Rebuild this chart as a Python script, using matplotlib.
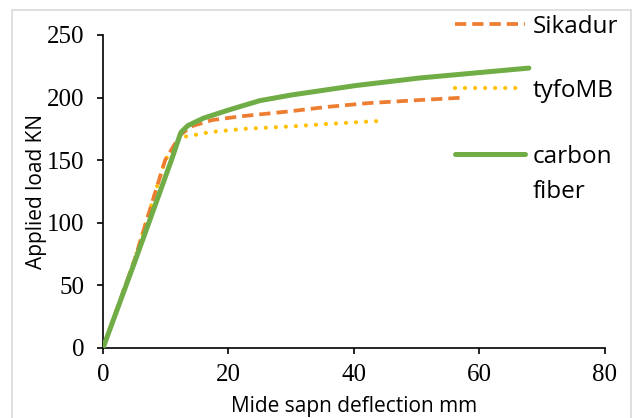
import matplotlib.pyplot as plt
from matplotlib.patches import Rectangle
from matplotlib.legend import Legend

# deflection (mm) vs applied load (kN)
sikadur_x = [0, 5, 9.9, 12.3, 14.1, 17.4, 22, 29.8, 35.7, 42.2, 50.5, 57.8]
sikadur_y = [0, 70, 150, 170, 177, 182, 185, 189, 192.5, 195.5, 198, 200]

tyfo_x = [0, 5, 9.9, 12.3, 17.2, 22.6, 30.3, 36, 44.9]
tyfo_y = [0, 70, 150, 168, 172.5, 175, 177, 179, 181.5]

carbon_x = [0, 5, 10.9, 12.4, 13.5, 16, 20, 25, 30, 40.2, 50.5, 67.9]
carbon_y = [0, 68, 150, 172, 177.5, 183.5, 190, 197.5, 202, 209.5, 215.6, 223.5]

labels = ['Sikadur', 'tyfoMB', 'carbon']
extra_label = 'fiber'
xticks = [0, 20, 40, 60, 80]
yticks = [0, 50, 100, 150, 200, 250]

fig = plt.figure(figsize=(6.4, 4.18), dpi=100)
ax = fig.add_axes([0.161, 0.1675, 0.784, 0.749])

# light gray frame around the chart area
fig.patches.append(Rectangle((0.019, -0.1), 0.967, 1.076, transform=fig.transFigure,
                             fill=False, edgecolor='#d9d9d9', linewidth=1.2))

l1, = ax.plot(sikadur_x, sikadur_y, color='#ed7d31', linewidth=2.7,
              linestyle=(0, (3.0, 1.6)), zorder=3)
l2, = ax.plot(tyfo_x, tyfo_y, color='#ffc000', linewidth=3.0,
              linestyle=(0, (0.01, 2.4)), dash_capstyle='round', zorder=2)
l3, = ax.plot(carbon_x, carbon_y, color='#70ad47', linewidth=3.6,
              solid_capstyle='round', solid_joinstyle='round', zorder=4)

ax.set_xlim(0, 80)
ax.set_ylim(0, 250)
ax.set_xticks(xticks)
ax.set_yticks(yticks)
for lab in ax.get_xticklabels() + ax.get_yticklabels():
    lab.set_fontfamily('Liberation Serif')
    lab.set_fontsize(18)
ax.tick_params(direction='out', length=4.5, width=1.2, color='black')
ax.tick_params(axis='x', pad=7)
ax.tick_params(axis='y', pad=9)
ax.spines['top'].set_visible(False)
ax.spines['right'].set_visible(False)
ax.spines['left'].set_linewidth(1.2)
ax.spines['bottom'].set_linewidth(1.2)

ax.set_xlabel('Mide sapn deflection mm', fontfamily='Open Sans', fontsize=15, labelpad=7)
ax.set_ylabel('Applied load KN', fontfamily='Open Sans', fontsize=15, labelpad=0)

# legend entries placed separately, as in the reference
leg_font = {'family': 'Open Sans', 'size': 17.5}
leg_y = [1.026, 0.821, 0.610]
legs = []
for handle, lab, yy in zip([l1, l2, l3], labels, leg_y):
    lg = Legend(ax, [handle], [lab], loc='center left', bbox_to_anchor=(0.701, yy),
                frameon=False, prop=leg_font, handlelength=2.9, handletextpad=0.3,
                borderpad=0, borderaxespad=0)
    ax.add_artist(lg)
    legs.append(lg)
carbon_text = legs[2].get_texts()[0]
ax.annotate(extra_label, xy=(0, 0), xycoords=carbon_text, xytext=(0, -25),
            textcoords='offset points', ha='left', va='bottom', zorder=10,
            fontproperties=carbon_text.get_fontproperties(), annotation_clip=False)

fig.savefig('out.png', dpi=100)
